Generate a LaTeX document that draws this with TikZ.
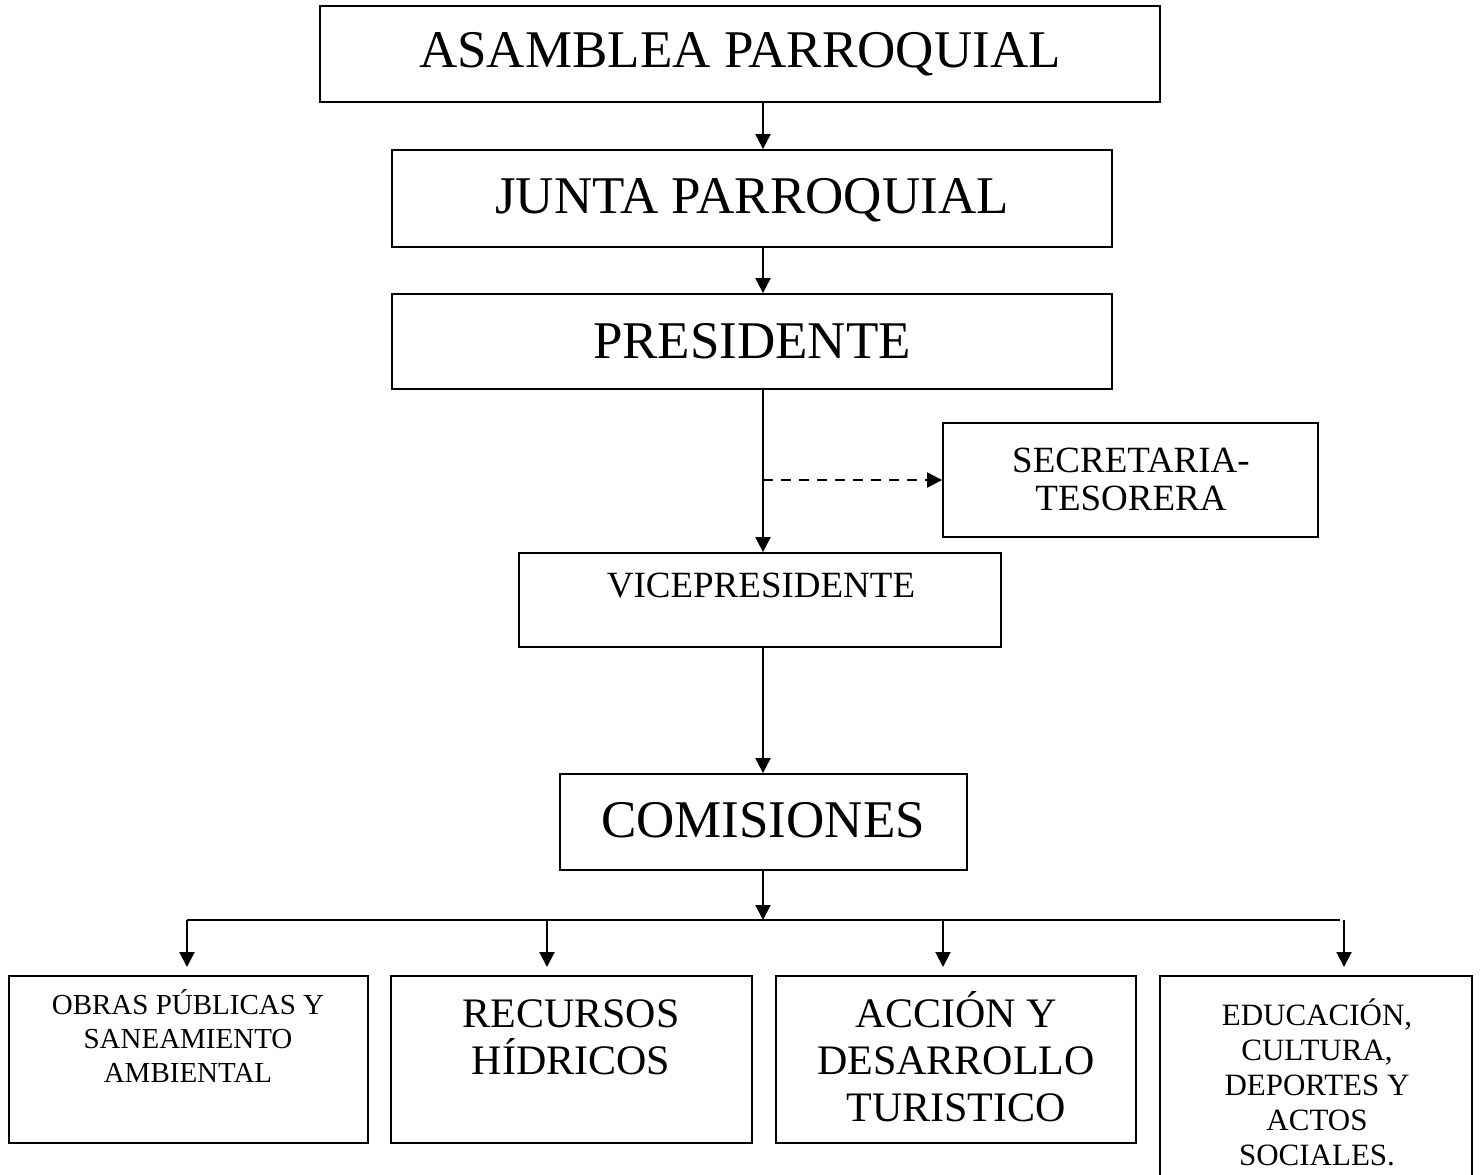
\documentclass[tikz,border=0pt]{standalone}
\usepackage{fontspec}
\setmainfont{Liberation Serif}
\usetikzlibrary{arrows.meta}
\tikzset{
  box/.style={draw=black, line width=1.8pt, inner sep=0pt},
  conn/.style={line width=2pt, -{Triangle[width=15pt,length=15pt]}},
  plain/.style={line width=2pt},
  dconn/.style={line width=2pt, dash pattern=on 10pt off 8pt, -{Triangle[width=15pt,length=15pt]}},
  txt/.style={anchor=base, inner sep=0pt},
  big/.style={txt, font=\fontsize{53}{60}\selectfont},
  mid/.style={txt, font=\fontsize{42}{47}\selectfont},
  med/.style={txt, font=\fontsize{37}{42}\selectfont},
  sml/.style={txt, font=\fontsize{31}{35}\selectfont},
  tny/.style={txt, font=\fontsize{29}{34}\selectfont},
}
\newcommand{\mybox}[5]{\node[box, minimum width={#4-#2}, minimum height={#5-#3}] (#1) at ({(#2+#4)/2},{(#3+#5)/2}) {};}
\begin{document}
\begin{tikzpicture}[x=1pt,y=-1pt]
\useasboundingbox (0,0) rectangle (1483,1175);
\begin{scope}
\clip (0,0) rectangle (1483,1175);
% boxes
\mybox{A}{320}{6}{1160}{102}
\mybox{J}{392}{150}{1112}{247}
\mybox{P}{392}{294}{1112}{389}
\mybox{S}{943}{423}{1318}{537}
\mybox{V}{519}{553}{1001}{647}
\mybox{C}{560}{774}{967}{870}
\mybox{O}{9}{976}{368}{1143}
\mybox{R}{391}{976}{752}{1143}
\mybox{Ac}{776}{976}{1136}{1143}
\mybox{E}{1160}{976}{1472}{1200}
\end{scope}
% texts
\node[big] (tA) at (740,67) {ASAMBLEA PARROQUIAL};
\node[big] (tJ) at (752,213) {JUNTA PARROQUIAL};
\node[big] (tP) at (752,358) {PRESIDENTE};
\node[med] (tS1) at (1131,472) {SECRETARIA-};
\node[med] (tS2) at (1131,510) {TESORERA};
\node[med] (tV) at (761,597) {VICEPRESIDENTE};
\node[big] (tC) at (763,837) {COMISIONES};
\node[tny] (tO1) at (188,1014) {OBRAS PÚBLICAS Y};
\node[tny] (tO2) at (188,1048) {SANEAMIENTO};
\node[tny] (tO3) at (188,1082) {AMBIENTAL};
\node[mid] (tR1) at (571,1027) {RECURSOS};
\node[mid] (tR2) at (571,1074) {HÍDRICOS};
\node[mid] (tAc1) at (956,1027) {ACCIÓN Y};
\node[mid] (tAc2) at (956,1074) {DESARROLLO};
\node[mid] (tAc3) at (956,1121) {TURISTICO};
\node[sml] (tE1) at (1317,1025) {EDUCACIÓN,};
\node[sml] (tE2) at (1317,1060) {CULTURA,};
\node[sml] (tE3) at (1317,1095) {DEPORTES Y};
\node[sml] (tE4) at (1317,1130) {ACTOS};
\node[sml] (tE5) at (1317,1165) {SOCIALES.};
% connectors
\coordinate (br) at (763,480);
\coordinate (hb) at (763,920);
\coordinate (h1) at (187,920);
\coordinate (h2) at (547,920);
\coordinate (h3) at (943,920);
\coordinate (h4) at (1344,920);
\coordinate (hr) at (1340,920);
\draw[conn] (A.south -| hb) -- (J.north -| hb);
\draw[conn] (J.south -| hb) -- (P.north -| hb);
\draw[conn] (P.south -| hb) -- (V.north -| hb);
\draw[dconn] (br) -- (S.west |- br);
\draw[conn] (V.south -| hb) -- (C.north -| hb);
\draw[conn] (C.south -| hb) -- (hb);
\draw[plain] (h1) -- (hr);
\draw[conn] (h1) -- ++(0,47);
\draw[conn] (h2) -- ++(0,47);
\draw[conn] (h3) -- ++(0,47);
\draw[conn] (h4) -- ++(0,47);
\end{tikzpicture}
\end{document}
